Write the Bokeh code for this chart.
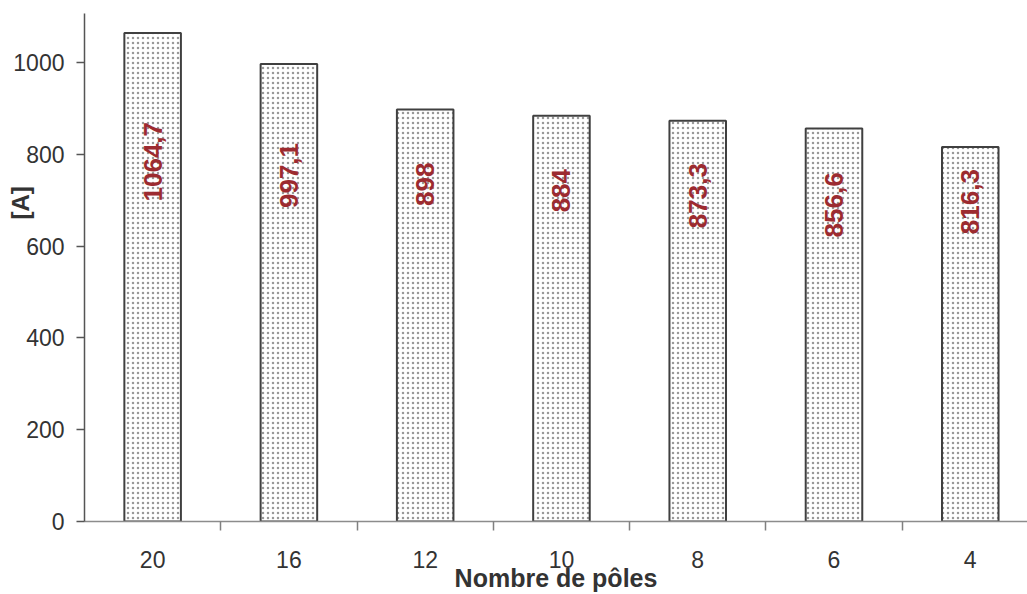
from bokeh.plotting import figure
from bokeh.models import (ColumnDataSource, Range1d, FixedTicker, LabelSet, Title)
from bokeh.core.properties import value
from bokeh.embed import file_html
from bokeh.resources import INLINE
import math

# ---- data ----
categories = ["20", "16", "12", "10", "8", "6", "4"]
currents = [1064.7, 997.1, 898.0, 884.0, 873.3, 856.6, 816.3]
value_labels = ["1064,7", "997,1", "898", "884", "873,3", "856,6", "816,3"]
y_ticks = [0, 200, 400, 600, 800, 1000]

# label anchor heights (data units) as placed in the original chart
label_pos = [784, 754, 735, 721, 710, 690, 697]

FONT = "Liberation Sans"

centers = [i + 0.5 for i in range(len(categories))]
src = ColumnDataSource(dict(x=centers, top=currents, lab=value_labels, ly=label_pos))

p = figure(width=1027, height=594, output_backend="svg", toolbar_location=None,
           x_range=Range1d(0, 6.92), y_range=Range1d(0, 1107),
           min_border_left=84, min_border_right=0, min_border_top=13, min_border_bottom=73)
p.outline_line_color = None
p.grid.visible = False
p.background_fill_color = "white"
p.border_fill_color = "white"

p.vbar(x="x", top="top", bottom=0, width=0.415, source=src,
       fill_color="white", line_color="#404040", line_width=2,
       hatch_pattern="dot", hatch_color="#999999", hatch_scale=5, hatch_weight=0.5)

labels = LabelSet(x="x", y="ly", text="lab", source=src, angle=math.pi / 2,
                  text_align="center", text_baseline="middle",
                  text_font=value(FONT), text_font_size=value("26px"), text_font_style="bold",
                  text_color="#9C2B30")
p.add_layout(labels)

# x axis: labels at category centres, ticks at category boundaries
xa = p.xaxis[0]
xa.ticker = FixedTicker(ticks=centers, minor_ticks=[i for i in range(1, len(categories))])
xa.major_label_overrides = {c: cat for c, cat in zip(centers, categories)}
xa.major_tick_out = 0
xa.major_tick_in = 0
xa.minor_tick_out = 9
xa.minor_tick_in = 0
xa.minor_tick_line_color = "#808080"
xa.minor_tick_line_width = 1.5
xa.axis_line_color = "#8c8c8c"
xa.axis_line_width = 1.5
xa.major_label_text_font = FONT
xa.major_label_text_font_size = "23px"
xa.major_label_text_color = "#333333"
xa.major_label_standoff = 20
xa.axis_label = "Nombre de pôles"
xa.axis_label_text_font = FONT
xa.axis_label_text_font_size = "25px"
xa.axis_label_text_font_style = "bold"
xa.axis_label_text_color = "#333333"
xa.axis_label_standoff = -7

ya = p.yaxis[0]
ya.ticker = FixedTicker(ticks=y_ticks)
ya.major_tick_out = 8
ya.major_tick_in = 0
ya.minor_tick_out = 0
ya.minor_tick_in = 0
ya.major_tick_line_color = "#555555"
ya.major_tick_line_width = 1.5
ya.axis_line_color = "#555555"
ya.axis_line_width = 1.5
ya.major_label_text_font = FONT
ya.major_label_text_font_size = "23px"
ya.major_label_text_color = "#333333"
ya.major_label_standoff = 12

# y axis title "[A]" in the left panel, shifted up as in the original;
# a leading empty line pushes the visible text toward the tick-label column
p.add_layout(Title(text="\n[A]", align="left", vertical_align="middle", offset=302, standoff=-48,
                   text_font=FONT, text_font_size="24px", text_font_style="bold",
                   text_color="#333333"), "left")

open("out.html", "w").write(file_html(p, INLINE))
